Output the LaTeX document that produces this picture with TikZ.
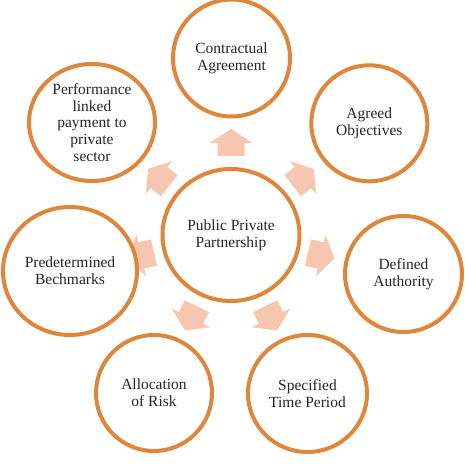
\documentclass[tikz,border=0pt]{standalone}
\usepackage{fontspec}
\setmainfont{Liberation Serif}
\usetikzlibrary{shapes.geometric}
\definecolor{ringorange}{RGB}{221,134,60}
\definecolor{arrowpeach}{RGB}{246,198,176}
\begin{document}
\begin{tikzpicture}[x=1pt,y=1pt,
	ring/.style={ellipse,draw=ringorange,line width=4pt,fill=white,inner sep=0pt,align=center,
		text=black!85,font=\fontsize{15.5}{16.8}\selectfont},
	blockarrow/.style={fill=arrowpeach}]
	\useasboundingbox (0,0) rectangle (465,467);
	\node[ring,minimum width=137pt,minimum height=132pt] (ppp) at (231,232) {Public Private\\Partnership};
	%%%%%%%%
	\def\blockpath{(79,-13.5) -- (92,-13.5) -- (92,-21.5) -- (106,0) -- (92,21.5) -- (92,13.5) -- (79,13.5) -- cycle}
	\foreach \a in {90,38.57,-12.86,-64.29,-115.71,-167.14,141.43}
		\fill[blockarrow,shift={(ppp.center)},rotate=\a] \blockpath;
	%%%%%%%%
	\node[ring,minimum width=117pt,minimum height=117pt] (contract) at (231.5,409) {Contractual\\Agreement};
	\node[ring,minimum width=116pt,minimum height=116pt] (objectives) at (369.3,343.7) {Agreed\\Objectives};
	\node[ring,minimum width=117pt,minimum height=116pt] (authority) at (403.5,193) {Defined\\Authority};
	\node[ring,minimum width=119pt,minimum height=117pt] (timeperiod) at (307.5,73.5) {Specified\\Time Period};
	\node[ring,minimum width=116pt,minimum height=116pt] (risk) at (154,74) {Allocation\\of Risk};
	\node[ring,minimum width=134pt,minimum height=128pt] (benchmarks) at (70,196) {Predetermined\\Bechmarks};
	\node[ring,minimum width=126pt,minimum height=117pt] (payment) at (92,344.5) {Performance\\linked\\payment to\\private\\sector};
\end{tikzpicture}
\end{document}
